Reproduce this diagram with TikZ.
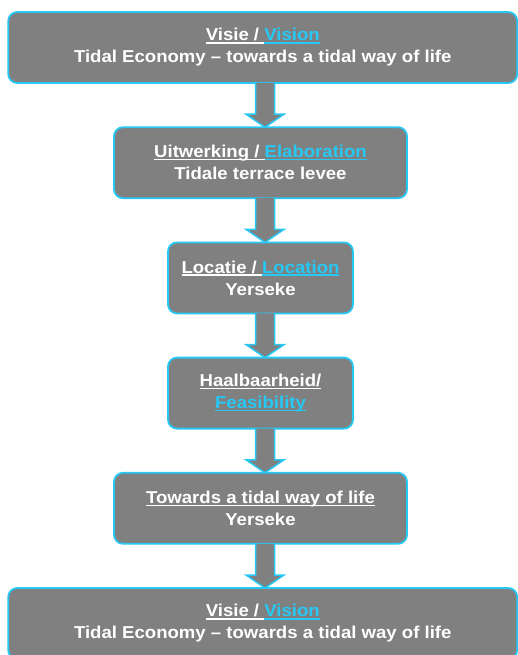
\documentclass[tikz,border=0pt]{standalone}
\usepackage{fontspec}
\setmainfont{Liberation Sans}[FakeStretch=1.08]
\usetikzlibrary{positioning}
\definecolor{tidecyan}{RGB}{38,200,245}
\definecolor{boxgray}{RGB}{128,128,128}
\tikzstyle{stage}=[rectangle,rounded corners=9pt,line width=1.8pt,draw=tidecyan,fill=boxgray,
  text=white,align=center,minimum height=71pt,inner sep=0pt,outer sep=0pt,
  font=\bfseries\fontsize{17.2}{22}\selectfont]
\tikzstyle{flow}=[line width=1.5pt,draw=tidecyan,fill=boxgray,line join=miter]
% underline at a fixed depth
\newcommand\lined[2][white]{{\setbox0\hbox{{\color{#1}#2}}\rlap{{\color{#1}\rule[-2.6pt]{\wd0}{1.4pt}}}\box0}}
% block arrow from the bottom of #1 to the top of #2
\newcommand\blockarrow[2]{%
  \path (#1.south -| axis) coordinate (p) (#2.north -| axis) coordinate (q);
  \filldraw[flow] ([xshift=-9.5pt]p) -- ([shift={(-9.5pt,13pt)}]q) -- ([shift={(-19pt,13pt)}]q)
    -- (q) -- ([shift={(19pt,13pt)}]q) -- ([shift={(9.5pt,13pt)}]q) -- ([xshift=9.5pt]p);}

\begin{document}
\begin{tikzpicture}[node distance=44.2pt]
    \useasboundingbox (0,0) rectangle (518pt,-655pt);
    \coordinate (axis) at (265pt,0);

    \node [stage,minimum width=509pt] (vision1) at (262.75pt,-47.5pt)
        {\lined{Visie / }\lined[tidecyan]{Vision}\\Tidal Economy – towards a tidal way of life};
    \node [stage,minimum width=293pt] (elaboration) [below=of vision1,xshift=-2.25pt]
        {\lined{Uitwerking / }\lined[tidecyan]{Elaboration}\\Tidale terrace levee};
    \node [stage,minimum width=185pt] (location) [below=of elaboration]
        {\lined{Locatie / }\lined[tidecyan]{Location}\\Yerseke};
    \node [stage,minimum width=185pt] (feasibility) [below=of location]
        {\lined{Haalbaarheid/}\\\lined[tidecyan]{Feasibility}};
    \node [stage,minimum width=293pt] (tidalway) [below=of feasibility]
        {\lined{Towards a tidal way of life}\\Yerseke};
    \node [stage,minimum width=509pt] (vision2) [below=of tidalway,xshift=2.25pt]
        {\lined{Visie / }\lined[tidecyan]{Vision}\\Tidal Economy – towards a tidal way of life};

    \blockarrow{vision1}{elaboration}
    \blockarrow{elaboration}{location}
    \blockarrow{location}{feasibility}
    \blockarrow{feasibility}{tidalway}
    \blockarrow{tidalway}{vision2}
\end{tikzpicture}
\end{document}
